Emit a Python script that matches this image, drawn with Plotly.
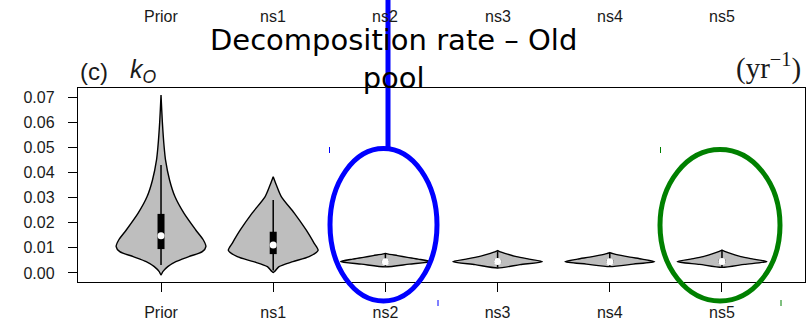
import plotly.graph_objects as go

# ---------------- data ----------------
categories = ["Prior", "ns1", "ns2", "ns3", "ns4", "ns5"]

# violin outlines: levels (yr^-1) and relative density (0..1) at each level
prior_levels = [-0.0008, 0.0005, 0.0025, 0.0045, 0.0065, 0.0085, 0.0105, 0.0132,
                0.0172, 0.0238, 0.0304, 0.037, 0.045, 0.05, 0.06, 0.0708]
prior_dens = [0, 0.04, 0.15, 0.33, 0.62, 0.92, 1.0, 0.94, 0.77, 0.51, 0.31,
              0.19, 0.10, 0.07, 0.03, 0]

ns1_levels = [0.0002, 0.0025, 0.0045, 0.0065, 0.009, 0.0119, 0.0172, 0.0238,
              0.0304, 0.035, 0.0383]
ns1_dens = [0, 0.13, 0.44, 0.80, 1.0, 0.91, 0.73, 0.47, 0.18, 0.07, 0]

ns2_levels = [0.0024, 0.0035, 0.0045, 0.0055, 0.0062, 0.0069, 0.0075, 0.0078]
ns2_dens = [0, 0.53, 1.0, 0.73, 0.49, 0.27, 0.07, 0]

ns3_levels = [0.0020, 0.0033, 0.0045, 0.0055, 0.0065, 0.0075, 0.0084, 0.0089]
ns3_dens = [0, 0.50, 1.0, 0.70, 0.42, 0.22, 0.06, 0]

ns4_levels = [0.0025, 0.0035, 0.0045, 0.0055, 0.0063, 0.0070, 0.0077, 0.0081]
ns4_dens = [0, 0.52, 1.0, 0.72, 0.45, 0.25, 0.07, 0]

ns5_levels = [0.0022, 0.0034, 0.0045, 0.0055, 0.0065, 0.0076, 0.0086, 0.0091]
ns5_dens = [0, 0.50, 1.0, 0.70, 0.42, 0.22, 0.06, 0]

# box-plot summaries inside the violins
q1 = [0.0095, 0.0075, 0.0040, 0.0040, 0.0040, 0.0040]
q3 = [0.0235, 0.0164, 0.0052, 0.0053, 0.0052, 0.0053]
medians = [0.0148, 0.0111, 0.0045, 0.0046, 0.0045, 0.0046]
whisker_lo = [0.0032, 0.0010, 0.0026, 0.0022, 0.0026, 0.0024]
whisker_hi = [0.0430, 0.0290, 0.0076, 0.0086, 0.0079, 0.0088]

y_ticks = [0.00, 0.01, 0.02, 0.03, 0.04, 0.05, 0.06, 0.07]

# ---------------- styles ----------------
HALF_W = 0.40          # max half width of a violin, category units
FILL = "#bebebe"
BOX_PX = 7

levels_all = [prior_levels, ns1_levels, ns2_levels, ns3_levels, ns4_levels, ns5_levels]
dens_all = [prior_dens, ns1_dens, ns2_dens, ns3_dens, ns4_dens, ns5_dens]
positions = list(range(1, len(categories) + 1))

fig = go.Figure()

for pos, lv, dn in zip(positions, levels_all, dens_all):
    xs = [pos + HALF_W * d for d in dn] + [pos - HALF_W * d for d in reversed(dn)]
    ys = list(lv) + list(reversed(lv))
    fig.add_trace(go.Scatter(
        x=xs, y=ys, mode="lines", fill="toself", fillcolor=FILL,
        line=dict(color="black", width=1.4, shape="spline", smoothing=0.7),
        hoverinfo="skip", showlegend=False))

# whiskers
wx, wy = [], []
for pos, lo, hi in zip(positions, whisker_lo, whisker_hi):
    wx += [pos, pos, None]
    wy += [lo, hi, None]
fig.add_trace(go.Scatter(x=wx, y=wy, mode="lines",
                         line=dict(color="black", width=1.5),
                         hoverinfo="skip", showlegend=False))
# boxes
bx, by = [], []
for pos, a, b in zip(positions, q1, q3):
    bx += [pos, pos, None]
    by += [a, b, None]
fig.add_trace(go.Scatter(x=bx, y=by, mode="lines",
                         line=dict(color="black", width=BOX_PX),
                         hoverinfo="skip", showlegend=False))
# medians
fig.add_trace(go.Scatter(x=positions, y=medians, mode="markers",
                         marker=dict(color="white", size=7, line=dict(width=0)),
                         hoverinfo="skip", showlegend=False))

L, R, T, B = 78, 3, 88, 44
W, H = 808, 326
PW, PH = W - L - R, H - T - B


def px(x):
    return (x - L) / PW


def py(y):
    return (H - B - y) / PH


tick_font = dict(family="Liberation Sans, Arial, sans-serif", size=16, color="#1a1a1a")

fig.update_layout(
    width=W, height=H,
    margin=dict(l=L, r=R, t=T, b=B),
    paper_bgcolor="white", plot_bgcolor="white",
    showlegend=False,
    xaxis=dict(range=[0.26, 6.74], tickmode="array", tickvals=positions,
               ticktext=categories, ticks="outside", ticklen=9, tickwidth=1.3,
               tickcolor="black", showline=True, mirror=True, linecolor="black",
               linewidth=1.4, showgrid=False, zeroline=False, tickfont=tick_font,
               ticklabelstandoff=7),
    yaxis=dict(range=[-0.0036, 0.0736], tickmode="array", tickvals=y_ticks,
               tickformat=".2f", ticks="outside", ticklen=9, tickwidth=1.3,
               tickcolor="black", showline=True, mirror=True, linecolor="black",
               linewidth=1.4, showgrid=False, zeroline=False, tickfont=tick_font,
               ticklabelstandoff=10),
)

annotations = []
# clipped labels of the panel above
for pos, name in zip(positions, categories):
    annotations.append(dict(x=pos, xref="x", y=py(16), yref="paper", text=name,
                            showarrow=False, xanchor="center", yanchor="middle",
                            font=tick_font))
annotations += [
    dict(x=px(393), y=py(59), xref="paper", yref="paper",
         text="Decomposition rate – Old<br>pool", showarrow=False,
         xanchor="center", yanchor="middle", align="center",
         font=dict(family="DejaVu Sans", size=29, color="black")),
    dict(x=px(78), y=py(71), xref="paper", yref="paper", text="(c)",
         showarrow=False, xanchor="left", yanchor="middle",
         font=dict(family="Liberation Sans, Arial", size=24, color="#1a1a1a")),
    dict(x=px(128), y=py(71), xref="paper", yref="paper",
         text="<i>k</i><sub><i>O</i></sub>",
         showarrow=False, xanchor="left", yanchor="middle",
         font=dict(family="Liberation Sans, Arial", size=25, color="#1a1a1a")),
    dict(x=px(803), y=py(66), xref="paper", yref="paper",
         text="(yr<sup>−1</sup>)", showarrow=False, xanchor="right", yanchor="middle",
         font=dict(family="Liberation Serif, Times New Roman, serif", size=29,
                   color="#1a1a1a")),
]
fig.update_layout(annotations=annotations)

BLUE, GREEN = "#0000ff", "#008000"
shapes = [
    dict(type="circle", xref="paper", yref="paper", x0=px(330), x1=px(437),
         y0=py(301), y1=py(148.5), line=dict(color=BLUE, width=5)),
    dict(type="line", xref="paper", yref="paper", x0=px(388), x1=px(388),
         y0=py(148.5), y1=py(-3), line=dict(color=BLUE, width=5)),
    dict(type="circle", xref="paper", yref="paper", x0=px(660), x1=px(780),
         y0=py(301), y1=py(149.5), line=dict(color=GREEN, width=5)),
    dict(type="line", xref="paper", yref="paper", x0=px(329.5), x1=px(329.5),
         y0=py(147), y1=py(153), line=dict(color=BLUE, width=1)),
    dict(type="line", xref="paper", yref="paper", x0=px(438), x1=px(438),
         y0=py(300), y1=py(306), line=dict(color=BLUE, width=1)),
    dict(type="line", xref="paper", yref="paper", x0=px(660.5), x1=px(660.5),
         y0=py(147), y1=py(153), line=dict(color=GREEN, width=1)),
    dict(type="line", xref="paper", yref="paper", x0=px(781), x1=px(781),
         y0=py(300), y1=py(306), line=dict(color=GREEN, width=1)),
]
fig.update_layout(shapes=shapes)

fig.write_html("out.html")
